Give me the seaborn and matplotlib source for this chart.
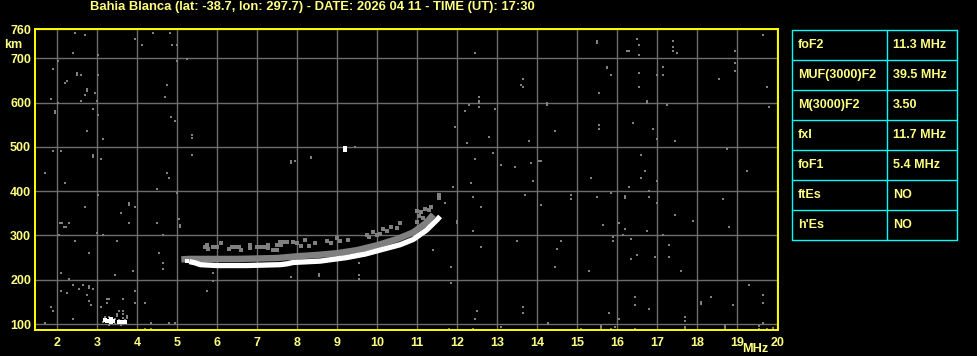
import matplotlib
matplotlib.use("Agg")
import matplotlib.pyplot as plt
import seaborn as sns
import numpy as np
import pandas as pd

# ---------------- data ----------------
title_text = "Bahia Blanca (lat: -38.7, lon: 297.7) - DATE: 2026 04 11 - TIME (UT): 17:30"
freq_ticks = list(range(2, 21))
freq_tick_labels = [str(v) for v in freq_ticks]
height_ticks = [100, 200, 300, 400, 500, 600, 700]
height_top_label = "760"
freq_unit = "MHz"
height_unit = "km"

table_labels = ["foF2", "MUF(3000)F2", "M(3000)F2", "fxI", "foF1", "ftEs", "h'Es"]
table_values = ["11.3 MHz", "39.5 MHz", "3.50", "11.7 MHz", "5.4 MHz", "NO", "NO"]

# ordinary (white) F trace
o_freq = [5.30, 5.45, 5.57, 6.00, 6.73, 7.57, 7.75, 7.90, 8.57, 9.23, 9.70, 10.07, 10.57, 10.90, 11.23, 11.49, 11.57]
o_height = [241, 238, 234, 232, 232, 234, 236, 239, 242, 250, 258, 267, 279, 291, 312, 335, 343]

# grey echo band just above the trace
x_freq = [5.10, 5.30, 5.60, 6.00, 6.50, 7.00, 7.50, 8.00, 8.50, 9.00, 9.50, 10.00, 10.50, 10.90, 11.20, 11.40]
x_height = [246, 247, 247, 247, 247, 248, 249, 253, 256, 260, 267, 278, 292, 307, 327, 347]

# scattered grey spread echoes above the band
spread_freq = [5.69, 5.73, 5.77, 5.90, 5.95, 6.00, 6.09, 6.30, 6.37, 6.42, 6.47, 6.54, 6.60, 6.82, 6.82,
               7.00, 7.05, 7.10, 7.20, 7.27, 7.27, 7.40, 7.45, 7.50, 7.60, 7.50, 7.57, 7.65, 7.75, 7.90,
               8.00, 8.10, 8.20, 8.30, 8.45, 8.75, 8.85, 9.00, 9.07, 9.27, 9.73, 9.80, 9.90, 10.00, 10.07,
               10.15, 10.25, 10.35, 10.50, 10.57, 11.00, 11.05, 11.10, 11.15, 11.20, 11.30, 11.35, 11.00, 11.55, 11.55]
spread_height = [274, 278, 270, 273, 273, 273, 282, 270, 275, 275, 275, 275, 266, 272, 278,
                 275, 275, 275, 275, 272, 278, 268, 268, 278, 278, 268, 286, 286, 286, 286,
                 282, 276, 290, 276, 282, 288, 283, 294, 288, 290, 300, 297, 307, 300, 304,
                 315, 311, 320, 316, 328, 330, 345, 352, 340, 360, 358, 365, 355, 385, 392]

# sporadic low echoes near 3.2-3.7 MHz
e_white_freq = [3.20, 3.25, 3.30, 3.35, 3.40, 3.35, 3.54, 3.64, 3.69, 5.25, 9.19, 9.19]
e_white_height = [108, 106, 106, 104, 106, 112, 104, 104, 104, 243, 497, 493]
e_grey_freq = [3.20, 3.30, 3.45, 3.50, 3.55, 3.65, 3.70, 3.60, 3.30, 3.50, 3.65, 3.25, 3.30, 3.24, 3.54, 3.64, 3.74, 3.74, 3.15, 3.45]
e_grey_height = [115, 116, 112, 118, 110, 114, 108, 98, 98, 123, 122, 157, 157, 148, 130, 130, 118, 114, 104, 100]

# background noise dots
noise_freq = [
    2.44, 2.69, 3.94, 4.39, 4.83, 4.13, 4.88, 4.98, 2.39, 3.03, 2.03, 4.98, 5.23, 1.89, 2.49, 2.49, 2.59, 2.24, 2.19, 3.03,
    2.73, 2.73, 2.94, 2.69, 1.84, 2.59, 2.98, 2.03, 1.94, 1.94, 2.89, 3.03, 4.74, 4.69, 4.84, 4.94, 2.73, 3.14, 5.38, 5.38,
    5.38, 1.89, 2.09, 2.89, 2.89, 3.09, 1.69, 4.74, 4.79,
    2.19, 4.49, 3.03, 4.98, 3.79, 3.79, 3.94, 2.69, 3.59, 2.07, 2.12, 2.29, 2.17, 2.22, 3.79, 4.49, 5.04, 5.08, 5.08, 2.98,
    3.14, 4.64, 2.04, 2.44, 3.49, 2.79, 4.54, 4.64, 4.64, 3.89, 2.09, 3.44, 2.29, 2.39, 2.64, 2.79, 2.79, 2.89, 2.54, 2.09,
    2.24, 3.94, 2.74, 3.64, 2.79, 2.84, 3.94, 4.19, 1.84, 1.89, 3.09, 2.39, 1.69, 4.34, 4.79, 4.94, 4.19, 4.34, 5.74, 5.89, 5.89,
    12.44, 13.63, 13.58, 13.63, 12.54, 12.54, 12.54, 12.29, 12.19, 12.54, 12.94, 11.94, 12.79, 13.79, 12.24, 12.89, 12.44,
    13.09, 13.44, 7.84, 7.84, 7.94, 8.34, 8.34, 9.44,
    11.88, 12.33, 12.38, 12.58, 13.69, 11.54, 11.69, 11.98, 11.98, 12.38, 13.48, 12.58, 11.38, 11.83, 11.83, 12.48, 12.43,
    12.38, 11.78, 13.08, 13.63, 13.63, 7.85, 8.53, 8.53, 9.53, 9.53, 9.53,
    15.49, 15.49, 16.49, 16.54, 16.24, 16.29, 16.54, 17.39, 17.39, 17.39, 17.49, 19.64, 18.94, 18.94, 18.94, 18.54, 19.74,
    19.79, 15.74, 15.74, 15.84, 16.54, 16.54, 16.99, 17.14, 17.14, 15.54, 14.24, 14.24, 16.74, 16.74, 17.24, 14.44, 15.54,
    15.54, 16.39, 16.89, 16.99, 17.44, 18.74, 13.84, 14.04, 14.09, 16.59, 16.69, 19.24, 15.34, 16.59,
    13.88, 16.28, 16.99, 14.83, 14.83, 15.49, 15.84, 16.19, 16.19, 16.79, 16.79, 16.99, 18.64, 14.09, 17.44, 17.89, 18.79,
    15.64, 16.04, 16.19, 16.74, 15.89, 15.89, 16.14, 16.34, 17.14, 14.59, 14.49, 14.44, 15.29, 17.29, 17.29, 16.94, 16.49,
    16.34, 17.59, 19.29, 19.64, 19.64, 18.89, 18.34, 18.09, 18.09, 16.44, 16.44, 16.79, 15.79, 16.04, 17.69, 17.69, 14.28,
    14.28, 15.58, 15.58, 15.84, 15.94, 15.09, 16.44, 17.69, 17.69, 18.69, 18.69, 19.64, 19.54, 19.74, 19.54, 19.89,
]
noise_height = [
    757, 752, 744, 757, 757, 730, 730, 730, 712, 707, 694, 694, 698, 676, 667, 663, 662, 649, 644, 662,
    630, 626, 622, 617, 608, 604, 604, 599, 581, 577, 585, 572, 640, 612, 567, 558, 536, 518, 526, 521,
    482, 491, 491, 482, 478, 473, 441, 441, 430,
    419, 405, 392, 396, 373, 369, 365, 365, 351, 329, 329, 329, 320, 320, 329, 329, 338, 323, 319, 306,
    302, 302, 302, 288, 288, 261, 261, 238, 225, 220, 216, 211, 202, 189, 189, 185, 181, 180, 180, 175,
    171, 175, 166, 157, 153, 144, 148, 148, 139, 130, 139, 112, 103, 103, 103, 103, 89, 89, 175, 198, 216,
    712, 653, 640, 635, 612, 604, 599, 595, 581, 590, 585, 545, 522, 513, 509, 486, 473,
    459, 455, 468, 464, 468, 478, 474, 500,
    410, 419, 387, 365, 392, 392, 374, 333, 329, 311, 288, 275, 266, 229, 193, 130, 112,
    89, 89, 94, 139, 125, 207, 213, 209, 238, 211, 202,
    739, 735, 744, 730, 716, 716, 707, 739, 725, 716, 712, 753, 716, 689, 671, 653, 635,
    590, 681, 677, 662, 667, 635, 662, 680, 662, 622, 598, 594, 604, 600, 595, 536, 549,
    540, 554, 540, 518, 513, 495, 464, 468, 468, 482, 446, 446, 430, 430,
    424, 410, 424, 392, 383, 387, 396, 389, 385, 401, 387, 374, 383, 369, 347, 333, 320,
    324, 329, 315, 311, 297, 288, 302, 293, 302, 288, 270, 229, 220, 279, 252, 252, 256,
    247, 220, 189, 166, 148, 144, 162, 149, 145, 162, 144, 135, 125, 112, 116, 107, 103,
    99, 96, 92, 89, 94, 89, 89, 94, 90, 96, 90, 103, 96, 89, 89, 92,
]

# ---------------- style ----------------
W, H = 978, 356
YELLOW = "#FFFF00"
TEXT = "#FFFF80"
GRID = "#6e6e6e"
DOT = "#808080"
CYAN = "#00FFFF"
FS = 9.0

sns.set_theme(style="dark")
plt.rcParams["font.family"] = ["Liberation Sans", "DejaVu Sans"]
plt.rcParams["font.weight"] = "bold"

fig = plt.figure(figsize=(W / 100, H / 100), dpi=100, facecolor="black")
ax_l, ax_r, ax_t, ax_b = 35.3, 778.3, 29.3, 330.3
ax = fig.add_axes([ax_l / W, 1 - ax_b / H, (ax_r - ax_l) / W, (ax_b - ax_t) / H])
ax.set_facecolor("black")

xlo, xhi = 1.45, 20.025
ylo, yhi = 85.8, 765.5

noise_df = pd.DataFrame({"f": noise_freq, "h": noise_height})
o_df = pd.DataFrame({"f": o_freq, "h": o_height})
x_df = pd.DataFrame({"f": x_freq, "h": x_height})
spread_df = pd.DataFrame({"f": spread_freq, "h": spread_height})
ew_df = pd.DataFrame({"f": e_white_freq, "h": e_white_height})
eg_df = pd.DataFrame({"f": e_grey_freq, "h": e_grey_height})

sns.scatterplot(data=noise_df, x="f", y="h", ax=ax, marker="s", s=2.6, linewidth=0, color=DOT, zorder=3)
sns.lineplot(data=x_df, x="f", y="h", ax=ax, sort=False, estimator=None, color=DOT, lw=4.6,
             solid_capstyle="butt", zorder=4)
sns.scatterplot(data=spread_df, x="f", y="h", ax=ax, marker="s", s=6, linewidth=0, color=DOT, zorder=4)
sns.scatterplot(data=eg_df, x="f", y="h", ax=ax, marker="s", s=4.5, linewidth=0, color=DOT, zorder=4)
sns.lineplot(data=o_df, x="f", y="h", ax=ax, sort=False, estimator=None, color="white", lw=3.8,
             solid_capstyle="butt", zorder=5)
sns.scatterplot(data=ew_df, x="f", y="h", ax=ax, marker="s", s=5, linewidth=0, color="white", zorder=5)

ax.set_xlim(xlo, xhi)
ax.set_ylim(ylo, yhi)
ax.set_xticks(freq_ticks)
ax.set_xticklabels(freq_tick_labels)
ax.set_yticks(height_ticks + [yhi])
ax.set_yticklabels([str(v) for v in height_ticks] + [height_top_label])
ax.grid(True, color=GRID, lw=1.0, zorder=1)
ax.set_axisbelow(True)
ax.tick_params(axis="both", length=0, colors=TEXT, labelsize=FS)
ax.tick_params(axis="x", pad=5.0)
ax.tick_params(axis="y", pad=3.0)
for lab in ax.get_xticklabels() + ax.get_yticklabels():
    lab.set_fontweight("bold")
    lab.set_color(TEXT)
ax.set_xlabel("")
ax.set_ylabel("")
for sp in ax.spines.values():
    sp.set_visible(True)
    sp.set_color(YELLOW)
    sp.set_linewidth(1.4)
    sp.set_zorder(10)
if ax.get_legend():
    ax.get_legend().remove()

# overlay in pixel coordinates for title, units and the table
ov = fig.add_axes([0, 0, 1, 1], facecolor="none")
ov.set_xlim(0, W)
ov.set_ylim(H, 0)
ov.axis("off")

ov.text(90, 7, title_text, color=TEXT, fontsize=9.4, fontweight="bold", ha="left", va="center")
ov.text(13.5, 45, height_unit, color=TEXT, fontsize=FS, fontweight="bold", ha="center", va="center")
ov.text(768.5, 349, freq_unit, color=TEXT, fontsize=9.2, fontweight="bold", ha="right", va="center")

tx0, tx1, tx2 = 792.3, 887.3, 957.3
ty0, row_h = 30.3, 30.0
n = len(table_labels)
for i in range(n + 1):
    ov.plot([tx0, tx2], [ty0 + i * row_h] * 2, color=CYAN, lw=1.0)
for xv in (tx0, tx1, tx2):
    ov.plot([xv, xv], [ty0, ty0 + n * row_h], color=CYAN, lw=1.0)
for i, (lab, val) in enumerate(zip(table_labels, table_values)):
    yc = ty0 + (i + 0.5) * row_h
    ov.text(tx0 + 5.5, yc, lab, color=TEXT, fontsize=FS, fontweight="bold", ha="left", va="center")
    ov.text(tx1 + 5.5, yc, val, color=TEXT, fontsize=FS, fontweight="bold", ha="left", va="center")

fig.savefig("out.png", dpi=100, facecolor="black")
